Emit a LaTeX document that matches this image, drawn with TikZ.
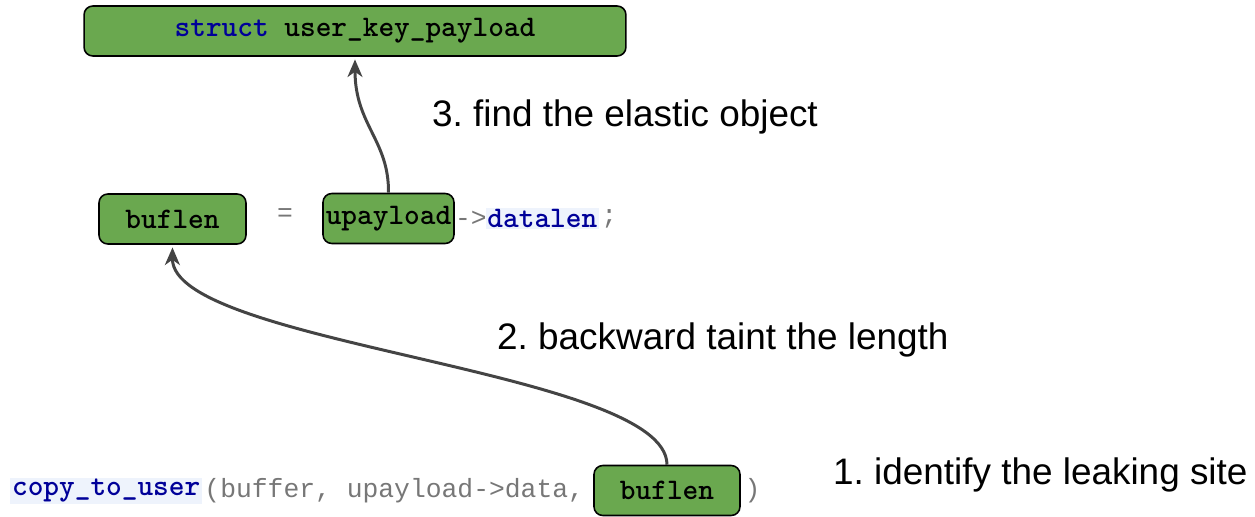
\documentclass[tikz,border=0pt]{standalone}
\usepackage{fontspec}
\setmainfont{Liberation Sans}
\newfontfamily\codemono{Liberation Mono}
\usetikzlibrary{positioning,arrows.meta}
\definecolor{boxgreen}{HTML}{6AA84F}
\definecolor{kwblue}{HTML}{000099}
\definecolor{codegray}{HTML}{777777}
\definecolor{hlbg}{HTML}{EEF3FC}
\definecolor{linegray}{HTML}{444444}
\begin{document}
\begin{tikzpicture}[x=0.02cm, y=-0.02cm,
    box/.style = {draw, line width=0.9pt, fill=boxgreen, rounded corners=5pt,
                  inner sep=1pt, minimum height=1.0cm,
                  font=\ttfamily\bfseries\fontsize{17}{20}\selectfont},
    code/.style = {inner sep=0pt, text=codegray, font=\codemono\fontsize{15}{18}\selectfont},
    kw/.style = {code, text=kwblue, fill=hlbg, inner sep=1pt, font=\ttfamily\bfseries\fontsize{17}{20}\selectfont},
    step label/.style = {anchor=west, font=\fontsize{21}{25}\selectfont},
    conn/.style = {draw=linegray, line width=1.7pt, -{Stealth[length=10pt, width=8.5pt, inset=3pt]}, shorten >=1.5pt}]
  \useasboundingbox (0,0) rectangle (1255,517);
  % boxes
  \node[box, minimum width=10.84cm] (payload) at (355,31) {\textcolor{kwblue}{struct} user\_key\_payload};
  \node[box, minimum width=2.94cm] (buflen) at (172.5,219) {buflen};
  \node[box, minimum width=2.62cm] (upayload) at (388.5,218.5) {upayload};
  \node[box, minimum width=2.92cm] (buflenarg) at (667,490.5) {buflen};
  % code around them
  \node[code] (eq) at (285,215) {=};
  \node[code, right=0pt of upayload] (deref) {->};
  \node[kw, right=-1pt of deref] (datalen) {datalen};
  \node[code, right=1pt of datalen] (semi) {;};
  \node[kw, anchor=west] (copy) at (10,491) {copy\_to\_user};
  \node[code, right=1pt of copy] (args) {(buffer, upayload->data,};
  \node[code, right=2pt of buflenarg] (paren) {)};
  % steps
  \node[step label] (step3) at (426,117) {3.\ find the elastic object};
  \node[step label] (step2) at (491,340) {2.\ backward taint the length};
  \node[step label] (step1) at (827,475) {1.\ identify the leaking site};
  % arrows
  \path[conn] (buflenarg.north) .. controls (667,370) and (172,345) .. (buflen.south);
  \path[conn] (upayload.north) .. controls (389,140) and (355,125) .. (payload.south);
\end{tikzpicture}
\end{document}
